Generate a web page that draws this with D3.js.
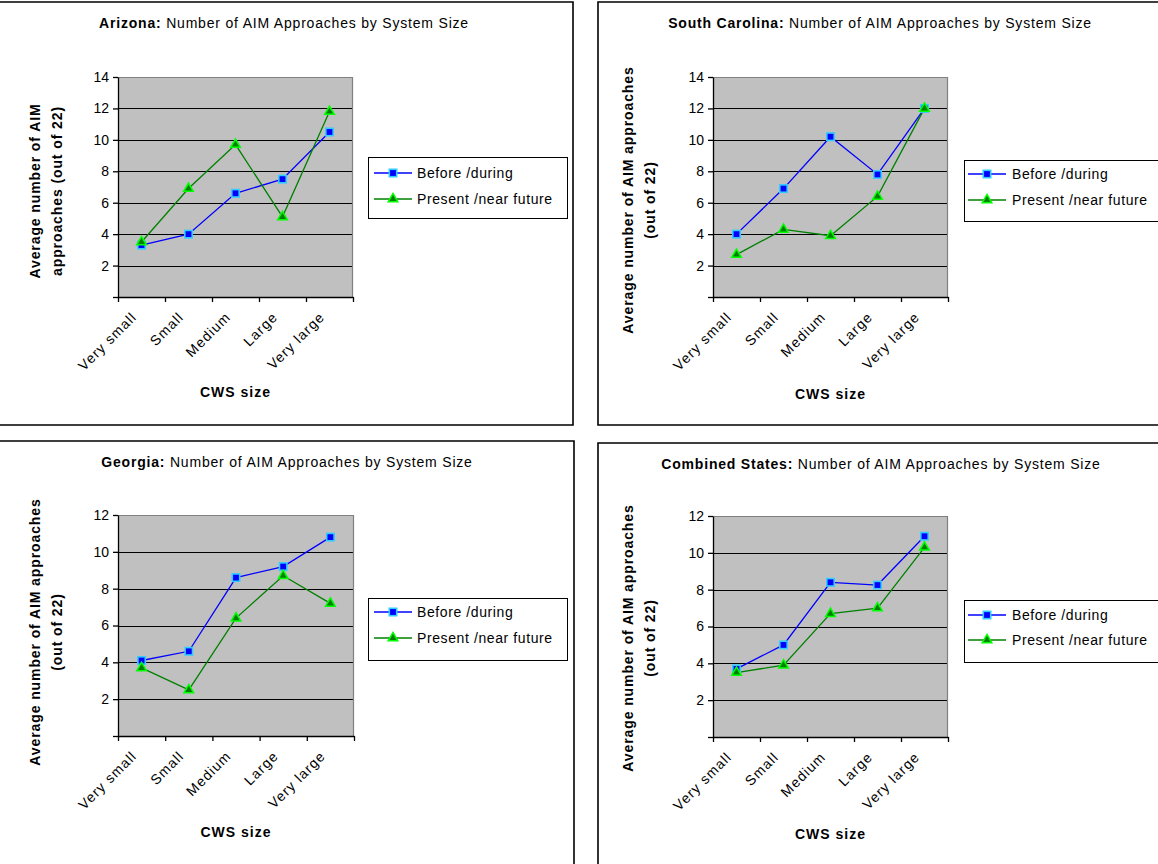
<!DOCTYPE html>
<html><head><meta charset="utf-8">
<script src="https://cdn.jsdelivr.net/npm/d3@7"></script>
<style>
html,body{margin:0;padding:0;background:#fff;}
svg{display:block;font-family:"Liberation Sans",Arial,sans-serif;}
</style></head>
<body>
<svg id="chart" width="1158" height="864"></svg>
<script>
// ---------- DATA ----------
const categories = ["Very small", "Small", "Medium", "Large", "Very large"];
const seriesNames = ["Before /during", "Present /near future"];

const azBefore  = [3.3, 4.0, 6.6, 7.5, 10.5];
const azPresent = [3.5, 6.9, 9.7, 5.1, 11.8];

const scBefore  = [4.0, 6.9, 10.2, 7.8, 12.0];
const scPresent = [2.7, 4.3, 3.9, 6.4, 12.0];

const gaBefore  = [4.1, 4.6, 8.6, 9.2, 10.8];
const gaPresent = [3.7, 2.5, 6.4, 8.7, 7.2];

const coBefore  = [3.7, 5.0, 8.4, 8.25, 10.9];
const coPresent = [3.5, 3.9, 6.7, 7.0, 10.3];

const ticks14 = [0, 2, 4, 6, 8, 10, 12, 14];
const ticks12 = [0, 2, 4, 6, 8, 10, 12];

const titlesBold = ["Arizona:", "South Carolina:", "Georgia:", "Combined States:"];
const titleRest = " Number of AIM Approaches by System Size";
const xTitle = "CWS size";

// ---------- LAYOUT ----------
const svg = d3.select("#chart");

const panels = [
  { bold: titlesBold[0], before: azBefore, present: azPresent, ticks: ticks14,
    plot: {l:118, r:353, t:77, b:297}, titleX: 284, titleY: 28,
    ylab: ["Average number of AIM", "approaches (out of 22)"], ylabX: [35, 57], ylabY: 191,
    xlabY: 397, legend: {x:368, y:157, w:199, h:61, lx1:374, lx2:412, tx:417, r1:173, r2:199} },
  { bold: titlesBold[1], before: scBefore, present: scPresent, ticks: ticks14,
    plot: {l:713, r:948, t:77, b:297}, titleX: 880, titleY: 28,
    ylab: ["Average number of AIM approaches", "(out of 22)"], ylabX: [628, 650], ylabY: 200,
    xlabY: 399, legend: {x:964, y:160, w:196, h:61, lx1:968, lx2:1006, tx:1012, r1:174, r2:200} },
  { bold: titlesBold[2], before: gaBefore, present: gaPresent, ticks: ticks12,
    plot: {l:118, r:354, t:515, b:736}, titleX: 287, titleY: 467,
    ylab: ["Average number of AIM approaches", "(out of 22)"], ylabX: [35, 57], ylabY: 632,
    xlabY: 837, legend: {x:368, y:598, w:199, h:62, lx1:374, lx2:412, tx:417, r1:612, r2:638} },
  { bold: titlesBold[3], before: coBefore, present: coPresent, ticks: ticks12,
    plot: {l:713, r:948, t:516, b:737}, titleX: 881, titleY: 469,
    ylab: ["Average number of AIM approaches", "(out of 22)"], ylabX: [628, 650], ylabY: 638,
    xlabY: 839, legend: {x:964, y:600, w:196, h:62, lx1:968, lx2:1006, tx:1012, r1:615, r2:640} }
];

// frames
const frame = svg.append("g").attr("fill", "none").attr("stroke", "#000").attr("stroke-width", 1.6);
frame.append("path").attr("d", "M-5,2H573V425H-5");
frame.append("path").attr("d", "M1165,2H598V425H1165");
frame.append("path").attr("d", "M-5,441H574V870");
frame.append("path").attr("d", "M598,870V443H1165");

const blue = "#0000ff", blueEdge = "#33ccff", green = "#008000", greenEdge = "#00ff00";

function square(g, x, y) {
  g.append("rect").attr("x", x - 3.7).attr("y", y - 3.7).attr("width", 7.4).attr("height", 7.4)
    .attr("fill", blue).attr("stroke", blueEdge).attr("stroke-width", 1.6);
}
const triSym = d3.symbol().type(d3.symbolTriangle).size(40);
function triangle(g, x, y) {
  g.append("path").attr("d", triSym()).attr("transform", `translate(${x},${y})`)
    .attr("fill", green).attr("stroke", greenEdge).attr("stroke-width", 1.5);
}

panels.forEach(p => {
  const g = svg.append("g");
  const P = p.plot;
  const yMax = d3.max(p.ticks);
  const x = d3.scaleBand().domain(categories).range([P.l, P.r]);
  const xb = d3.scaleLinear().domain([0, categories.length]).range([P.l, P.r]);
  const y = d3.scaleLinear().domain([0, yMax]).range([P.b, P.t]);

  // plot background
  g.append("rect").attr("x", P.l).attr("y", P.t).attr("width", P.r - P.l).attr("height", P.b - P.t)
    .attr("fill", "#c0c0c0");
  // gridlines
  g.append("g").selectAll("line").data(p.ticks.filter(d => d > 0 && d < yMax)).join("line")
    .attr("x1", P.l).attr("x2", P.r).attr("y1", d => Math.round(y(d)) + 0.5).attr("y2", d => Math.round(y(d)) + 0.5)
    .attr("stroke", "#000").attr("stroke-width", 1);
  // top/right border grey
  g.append("path").attr("d", `M${P.l},${P.t + 0.5}H${P.r - 0.5}V${P.b}`).attr("fill", "none")
    .attr("stroke", "#808080").attr("stroke-width", 1.2);

  // y axis
  const ya = g.append("g").attr("transform", `translate(${P.l},0)`)
    .call(d3.axisLeft(y).tickValues(p.ticks).tickSize(5).tickSizeOuter(0).tickPadding(4)
      .tickFormat(d => d === 0 ? "" : d));
  ya.selectAll("text").attr("font-size", 14).attr("fill", "#000").attr("font-family", "Liberation Sans, Arial, sans-serif");
  ya.selectAll("line,path").attr("stroke", "#000").attr("stroke-width", 1.3);

  // x axis ticks at category boundaries
  const xa = g.append("g").attr("transform", `translate(0,${P.b})`)
    .call(d3.axisBottom(xb).tickValues(d3.range(categories.length + 1)).tickSize(5).tickSizeOuter(0).tickFormat(""));
  xa.selectAll("line,path").attr("stroke", "#000").attr("stroke-width", 1.3);

  // x category labels (rotated)
  g.append("g").selectAll("text").data(categories).join("text")
    .attr("transform", d => `translate(${x(d) + x.bandwidth() / 2 - 4},${P.b + 21}) rotate(-45)`)
    .attr("text-anchor", "end").attr("font-size", 14).attr("letter-spacing", 1.1)
    .text(d => d);

  // lines
  const line = d3.line().x((d, i) => x(categories[i]) + x.bandwidth() / 2).y(d => y(d));
  g.append("path").datum(p.before).attr("d", line).attr("fill", "none").attr("stroke", blue).attr("stroke-width", 1.3);
  g.append("path").datum(p.present).attr("d", line).attr("fill", "none").attr("stroke", green).attr("stroke-width", 1.3);
  p.before.forEach((v, i) => square(g, x(categories[i]) + x.bandwidth() / 2, y(v)));
  p.present.forEach((v, i) => triangle(g, x(categories[i]) + x.bandwidth() / 2, y(v)));

  // title
  const t = g.append("text").attr("x", p.titleX).attr("y", p.titleY).attr("text-anchor", "middle")
    .attr("font-size", 14).attr("letter-spacing", 0.8);
  t.append("tspan").attr("font-weight", "bold").text(p.bold);
  t.append("tspan").text(titleRest);

  // y label
  p.ylab.forEach((s, i) => {
    g.append("text").attr("transform", `translate(${p.ylabX[i]},${p.ylabY}) rotate(-90)`)
      .attr("text-anchor", "middle").attr("dy", "0.35em").attr("font-size", 14).attr("font-weight", "bold")
      .attr("letter-spacing", 0.9).text(s);
  });

  // x title
  g.append("text").attr("x", (P.l + P.r) / 2).attr("y", p.xlabY).attr("text-anchor", "middle")
    .attr("font-size", 14).attr("font-weight", "bold").attr("letter-spacing", 1).text(xTitle);

  // legend
  const L = p.legend;
  const lg = g.append("g");
  lg.append("rect").attr("x", L.x + 0.5).attr("y", L.y + 0.5).attr("width", L.w).attr("height", L.h)
    .attr("fill", "#fff").attr("stroke", "#000").attr("stroke-width", 1);
  [[L.r1, blue, square, seriesNames[0]], [L.r2, green, triangle, seriesNames[1]]].forEach(([ry, col, mk, name]) => {
    lg.append("line").attr("x1", L.lx1).attr("x2", L.lx2).attr("y1", ry).attr("y2", ry)
      .attr("stroke", col).attr("stroke-width", 1.3);
    mk(lg, (L.lx1 + L.lx2) / 2, ry);
    lg.append("text").attr("x", L.tx).attr("y", ry).attr("dy", "0.35em").attr("font-size", 14)
      .attr("letter-spacing", 0.6).text(name);
  });
});
</script>
</body></html>
